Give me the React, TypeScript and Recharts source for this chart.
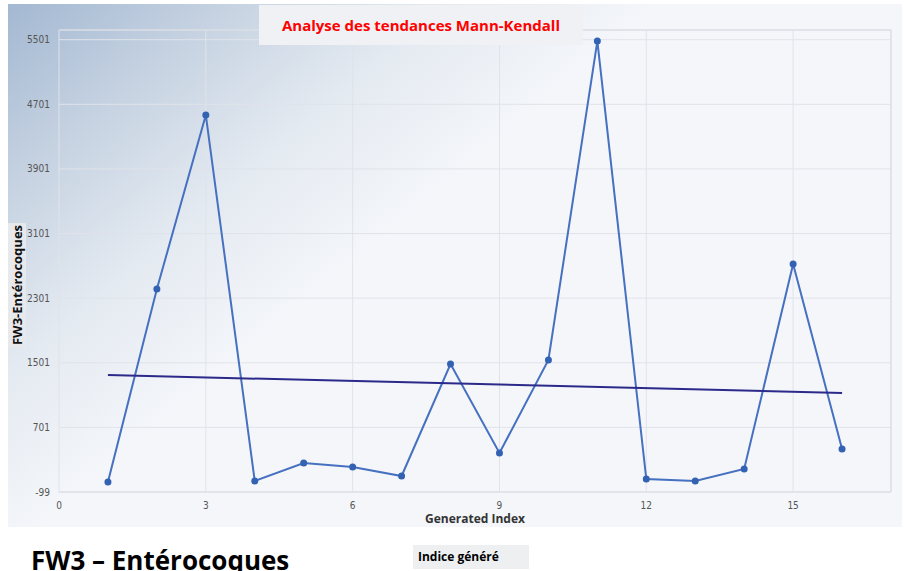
import { LineChart, Line, XAxis, YAxis, CartesianGrid, ReferenceLine } from 'recharts';

const indices = [1, 2, 3, 4, 5, 6, 7, 8, 9, 10, 11, 12, 13, 14, 15, 16];
const values = [25, 2414, 4568, 37, 260, 210, 99, 1486, 384, 1535, 5484, 62, 37, 186, 2724, 433];
const trendIndices = [1, 16];
const trendValues = [1349, 1127];
const xTicks = [0, 3, 6, 9, 12, 15];
const yTicks = [-99, 701, 1501, 2301, 3101, 3901, 4701, 5501];

const X_MAX = 17;
const Y_MAX = 5621;

const series = indices.map((idx, i) => ({ idx, value: values[i] }));
const trend = trendIndices.map((idx, i) => ({ idx, trend: trendValues[i] }));

const tickFont = {
  fontSize: 10,
  fill: '#555',
  fontFamily: "'Liberation Sans Narrow', 'DejaVu Sans Condensed', sans-serif",
};

export default function App() {
  return (
    <div
      style={{
        position: 'absolute',
        left: 0,
        top: 0,
        width: 904,
        height: 571,
        background: '#fff',
        overflow: 'hidden',
        fontFamily: "'Open Sans', sans-serif",
      }}
    >
      {/* chart panel */}
      <div
        style={{
          position: 'absolute',
          left: 8,
          top: 4,
          width: 894,
          height: 523,
          background:
            'linear-gradient(140deg, #a3b8d2 0%, #c7d3e2 15%, #e4eaf1 29%, #f4f6fa 43%, #f4f6fa 100%)',
        }}
      />
      {/* y axis label */}
      <div
        style={{
          position: 'absolute',
          left: 17,
          top: 285,
          transform: 'translate(-50%, -50%) rotate(-90deg)',
          background: '#e8e9ec',
          color: '#111',
          fontWeight: 700,
          fontSize: 13,
          lineHeight: '18px',
          padding: '0 2px',
          whiteSpace: 'nowrap',
        }}
      >
        FW3-Entérocoques
      </div>
      <div style={{ position: 'absolute', left: 0, top: 0 }}>
        <LineChart
          width={904}
          height={527}
          margin={{ top: 30, right: 13, bottom: 15, left: 0 }}
        >
          <CartesianGrid stroke="#e0e3e9" strokeWidth={1} />
          <XAxis
            type="number"
            dataKey="idx"
            domain={[0, X_MAX]}
            ticks={xTicks}
            tickLine={false}
            axisLine={{ stroke: '#d8dbe1' }}
            tick={tickFont}
            tickMargin={4}
            height={20}
            allowDataOverflow
          />
          <YAxis
            type="number"
            domain={[-99, Y_MAX]}
            ticks={yTicks}
            tickLine={false}
            axisLine={false}
            tick={tickFont}
            tickMargin={3}
            width={59}
            allowDataOverflow
          />
          <ReferenceLine x={X_MAX} stroke="#d8dbe1" />
          <ReferenceLine y={Y_MAX} stroke="#d8dbe1" />
          <Line
            data={series}
            dataKey="value"
            type="linear"
            stroke="#4670c0"
            strokeWidth={2}
            dot={{ r: 3.5, fill: '#3462b3', stroke: '#3462b3', strokeWidth: 0 }}
            isAnimationActive={false}
          />
          <Line
            data={trend}
            dataKey="trend"
            type="linear"
            stroke="#2b2a8a"
            strokeWidth={2}
            dot={false}
            isAnimationActive={false}
          />
        </LineChart>
      </div>
      {/* title */}
      <div
        style={{
          position: 'absolute',
          left: 259,
          top: 5,
          width: 324,
          height: 40,
          background: '#f0f1f4',
          color: '#ff0000',
          fontWeight: 700,
          fontSize: 15,
          lineHeight: '40px',
          textAlign: 'center',
        }}
      >
        Analyse des tendances Mann-Kendall
      </div>
      {/* x axis label */}
      <div
        style={{
          position: 'absolute',
          left: 475,
          top: 518,
          transform: 'translate(-50%, -50%)',
          color: '#333',
          fontWeight: 700,
          fontSize: 12,
          whiteSpace: 'nowrap',
        }}
      >
        Generated Index
      </div>
      {/* text below */}
      <div
        style={{
          position: 'absolute',
          left: 31,
          top: 543,
          color: '#000',
          fontWeight: 700,
          fontSize: 26,
          lineHeight: '34px',
          whiteSpace: 'nowrap',
        }}
      >
        FW3 – Entérocoques
      </div>
      <div
        style={{
          position: 'absolute',
          left: 413,
          top: 545,
          width: 116,
          height: 24,
          background: '#eeeff1',
          color: '#000',
          fontWeight: 700,
          fontSize: 12,
          lineHeight: '24px',
          paddingLeft: 5,
          boxSizing: 'border-box',
          whiteSpace: 'nowrap',
        }}
      >
        Indice généré
      </div>
    </div>
  );
}
